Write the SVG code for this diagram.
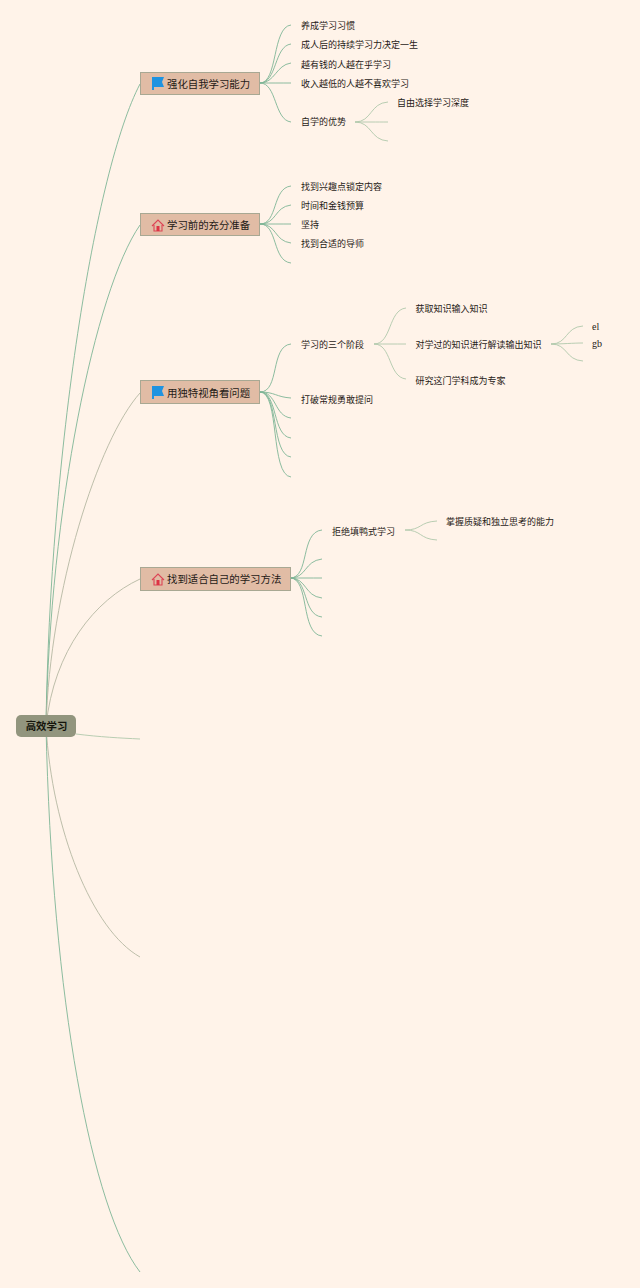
<svg xmlns="http://www.w3.org/2000/svg" width="640" height="1288" viewBox="0 0 640 1288">
<style>
text{font-family:"Noto Sans CJK SC","Noto Sans",sans-serif;fill:#1f1a16;dominant-baseline:central}
.leaf{font-size:9px}
.main{font-size:10.4px}
.root{font-size:10.4px;font-weight:700;fill:#14140c}
.latin{font-family:"Liberation Serif",serif;font-size:10px}
.box{fill:#e1bca5;stroke:#a8a893;stroke-width:1}
#connectors path{fill:none;stroke:#7fb596;stroke-width:.9}
#connectors .pale{stroke:#b0c8ac}
#connectors .grey{stroke:#b5b8a3}
</style>
<rect width="640" height="1288" fill="#fff3e9"/>
<g id="connectors">
<path d="M46 726C50 450 95 170 140 84"/>
<path d="M46 726C50 510 95 290 140 225"/>
<path class="grey" d="M46 726C50 590 98 440 140 393"/>
<path class="grey" d="M46 726C54 650 95 600 140 579"/>
<path class="pale" d="M76 734C100 737 120 738 140 739"/>
<path class="grey" d="M46 726C52 830 92 930 140 957"/>
<path d="M46 726C52 1000 92 1210 140 1272"/>
<path d="M260 83C278 83 272 27 291 25"/>
<path d="M260 83C277 83 274 46 291 44"/>
<path d="M260 83C275 83 276 65 291 63"/>
<path d="M260 83C272 83 280 83 291 83"/>
<path d="M260 83C277 83 274 120 291 122"/>
<path class="pale" d="M355 122C372 122 370 103 388 102"/>
<path class="pale" d="M355 122C368 122 376 122 388 122"/>
<path class="pale" d="M355 122C372 122 370 140 388 141"/>
<path d="M260 224C278 224 272 188 291 186"/>
<path d="M260 224C277 224 274 207 291 205"/>
<path d="M260 224C272 224 280 224 291 224"/>
<path d="M260 224C277 224 274 241 291 243"/>
<path d="M260 224C278 224 272 261 291 263"/>
<path d="M260 392C280 392 270 346 291 344"/>
<path d="M260 392C275 392 276 397 291 398"/>
<path d="M260 392C277 392 274 416 291 418"/>
<path d="M260 392C278 392 272 436 291 438"/>
<path d="M260 392C279 392 271 455 291 457"/>
<path d="M260 392C280 392 270 475 291 477"/>
<path class="pale" d="M374 344C392 344 388 310 406 308"/>
<path class="pale" d="M374 344C386 344 394 344 406 344"/>
<path class="pale" d="M374 344C392 344 388 377 406 379"/>
<path class="pale" d="M551 344C568 344 565 327 583 326"/>
<path class="pale" d="M551 344C564 344 572 343 583 343"/>
<path class="pale" d="M551 344C568 344 565 360 583 361"/>
<path d="M290 578C310 578 300 532 322 530"/>
<path d="M290 578C307 578 304 561 322 559"/>
<path d="M290 578C302 578 310 578 322 578"/>
<path d="M290 578C307 578 304 596 322 598"/>
<path d="M290 578C309 578 302 615 322 617"/>
<path d="M290 578C310 578 300 634 322 636"/>
<path class="pale" d="M405 530C422 530 419 522 437 521"/>
<path class="pale" d="M405 530C422 530 419 539 437 540"/>
</g>
<g id="root"><rect x="16" y="715" width="60" height="22" rx="5" fill="#92957e"/><text class="root" x="46.500" y="725.500" text-anchor="middle">高效学习</text></g>
<g id="b1"><rect class="box" x="140.500" y="72.500" width="119" height="22"/><path d="M152 77H164L162 82L164 87H154V90H152Z" fill="#1f93e0"/><text class="main" x="167" y="83.500">强化自我学习能力</text></g>
<g id="b2"><rect class="box" x="140.500" y="213.500" width="119" height="22"/><path d="M152 226L158 220L164 226M154 225V231H162V225" fill="none" stroke="#dd4455" stroke-width="1.100"/><rect x="156.500" y="226" width="3" height="5" fill="#dd3344"/><text class="main" x="167" y="224.500">学习前的充分准备</text></g>
<g id="b3"><rect class="box" x="140.500" y="380.500" width="119" height="23"/><path d="M152 386H164L162 391L164 396H154V399H152Z" fill="#1f93e0"/><text class="main" x="167" y="392.500">用独特视角看问题</text></g>
<g id="b4"><rect class="box" x="140.500" y="567.500" width="150" height="23"/><path d="M152 580L158 574L164 580M154 579V585H162V579" fill="none" stroke="#dd4455" stroke-width="1.100"/><rect x="156.500" y="580" width="3" height="5" fill="#dd3344"/><text class="main" x="167" y="578.500">找到适合自己的学习方法</text></g>
<g id="l1"><text class="leaf" x="301" y="25.500">养成学习习惯</text></g>
<g id="l2"><text class="leaf" x="301" y="44.500">成人后的持续学习力决定一生</text></g>
<g id="l3"><text class="leaf" x="301" y="64">越有钱的人越在乎学习</text></g>
<g id="l4"><text class="leaf" x="301" y="83.500">收入越低的人越不喜欢学习</text></g>
<g id="l5"><text class="leaf" x="301" y="121.500">自学的优势</text></g>
<g id="l6"><text class="leaf" x="397" y="102.500">自由选择学习深度</text></g>
<g id="l7"><text class="leaf" x="301" y="186.500">找到兴趣点锁定内容</text></g>
<g id="l8"><text class="leaf" x="301" y="205.500">时间和金钱预算</text></g>
<g id="l9"><text class="leaf" x="301" y="224.500">坚持</text></g>
<g id="l10"><text class="leaf" x="301" y="243.500">找到合适的导师</text></g>
<g id="l11"><text class="leaf" x="301" y="344">学习的三个阶段</text></g>
<g id="l12"><text class="leaf" x="301" y="399">打破常规勇敢提问</text></g>
<g id="l13"><text class="leaf" x="415.500" y="308">获取知识输入知识</text></g>
<g id="l14"><text class="leaf" x="415.500" y="344">对学过的知识进行解读输出知识</text></g>
<g id="l15"><text class="leaf" x="415.500" y="380">研究这门学科成为专家</text></g>
<g id="l16"><text class="latin" x="592" y="326.500">el</text></g>
<g id="l17"><text class="latin" x="592" y="343.500">gb</text></g>
<g id="l18"><text class="leaf" x="332" y="531">拒绝填鸭式学习</text></g>
<g id="l19"><text class="leaf" x="446" y="521.500">掌握质疑和独立思考的能力</text></g>
</svg>
